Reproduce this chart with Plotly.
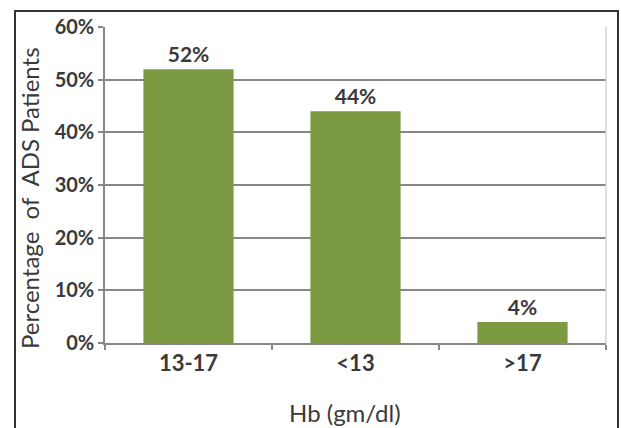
import plotly.graph_objects as go

# Hb groups and share of ADS patients
categories = ["13-17", "<13", ">17"]
shares = [0.52, 0.44, 0.04]
labels = ["52%", "44%", "4%"]

W, H = 621, 428
L, R, T, B = 105, 15, 27, 85
pw, ph = W - L - R, H - T - B

def px_x(x):
    return (x - L) / pw

def px_y(y):
    return (H - B - y) / ph

TXT = "#3a3a3a"

fig = go.Figure(
    go.Bar(
        x=categories,
        y=shares,
        text=labels,
        textposition="outside",
        textfont=dict(family="Lato", size=21, color=TXT, weight="bold"),
        marker=dict(color="#7B9A42", line=dict(width=0)),
        width=0.54,
        cliponaxis=False,
    )
)

fig.update_layout(
    width=W,
    height=H,
    margin=dict(l=L, r=R, t=T, b=B),
    paper_bgcolor="white",
    plot_bgcolor="white",
    showlegend=False,
    font=dict(family="Lato", color=TXT),
    xaxis=dict(
        type="category",
        tickson="boundaries",
        ticks="outside",
        ticklen=5,
        tickcolor="#888888",
        tickwidth=1.5,
        showline=True,
        linecolor="#888888",
        linewidth=1.5,
        showgrid=False,
        tickfont=dict(family="Lato", size=22, color=TXT, weight="bold"),
    ),
    yaxis=dict(
        range=[0, 0.6],
        dtick=0.1,
        tickformat=".0%",
        ticks="outside",
        ticklen=5,
        tickcolor="#888888",
        tickwidth=1.5,
        showline=True,
        linecolor="#888888",
        linewidth=1.5,
        showgrid=True,
        gridcolor="#868686",
        gridwidth=1.8,
        zeroline=False,
        tickfont=dict(family="Lato", size=20, color=TXT, weight="bold"),
    ),
)

# axis titles
fig.add_annotation(text="Percentage  of  ADS Patients", xref="paper", yref="paper",
                   x=px_x(29), y=px_y(198), textangle=-90, showarrow=False,
                   xanchor="center", yanchor="middle",
                   font=dict(family="Lato", size=24, color=TXT))
fig.add_annotation(text="Hb (gm/dl)", xref="paper", yref="paper",
                   x=px_x(345), y=px_y(412), showarrow=False,
                   xanchor="center", yanchor="middle",
                   font=dict(family="Lato", size=24, color=TXT))

# light right edge of the plotting area
fig.add_shape(type="line", xref="paper", yref="paper", x0=1, x1=1, y0=0, y1=1,
              line=dict(color="#d4d4d4", width=1.5))

# outer frame around the chart
fig.add_shape(type="rect", xref="paper", yref="paper",
              x0=px_x(15), x1=px_x(618), y0=px_y(432), y1=px_y(11),
              line=dict(color="#333333", width=2))

fig.write_html("out.html")
